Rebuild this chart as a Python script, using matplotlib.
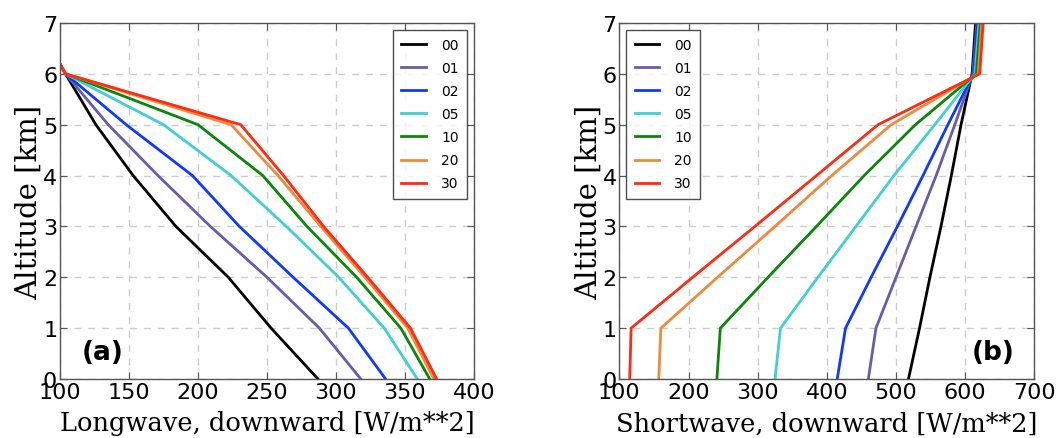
import matplotlib
matplotlib.use("Agg")
import matplotlib.pyplot as plt

altitude = [0, 1, 2, 3, 4, 5, 6, 7]
labels = ["00", "01", "02", "05", "10", "20", "30"]
colors = ["#000000", "#6b5bab", "#1238ff", "#40d0d0", "#0a860a", "#ec8a3d", "#ff2b12"]

lw_00 = [287, 253, 222, 184, 153, 126, 104, 83]
lw_01 = [318, 288, 250, 209, 171, 135, 104, 83]
lw_02 = [336, 309, 269, 230, 196, 148, 104, 83]
lw_05 = [359, 335, 302, 264, 224, 175, 104, 83]
lw_10 = [368, 347, 315, 279, 247, 200, 104, 83]
lw_20 = [371, 352, 321, 289, 258, 224, 104, 83]
lw_30 = [373, 354, 323, 291, 262, 231, 104, 83]

sw_00 = [518, 534, 549, 565, 580, 594, 610, 615]
sw_01 = [460, 471, 500, 529, 558, 585, 611, 617]
sw_02 = [415, 427, 464, 502, 539, 575, 612, 618]
sw_05 = [325, 333, 387, 442, 497, 556, 614, 620]
sw_10 = [241, 246, 315, 385, 454, 528, 616, 622]
sw_20 = [157, 160, 242, 325, 407, 493, 619, 624]
sw_30 = [115, 117, 206, 296, 385, 474, 621, 626]

lw_series = [lw_00, lw_01, lw_02, lw_05, lw_10, lw_20, lw_30]
sw_series = [sw_00, sw_01, sw_02, sw_05, sw_10, sw_20, sw_30]

fig = plt.figure(figsize=(10.56, 4.39), dpi=100)
axL = fig.add_axes([0.0568, 0.1344, 0.392, 0.811])
axR = fig.add_axes([0.5865, 0.1344, 0.393, 0.811])

def style(ax, xlim, xticks, xlabel, panel, ppos, loc):
    ax.set_xlim(*xlim)
    ax.set_ylim(0, 7)
    ax.set_xticks(xticks)
    ax.set_yticks(range(0, 8))
    ax.grid(True, color="#cccccc", linestyle=(0, (5, 5)), linewidth=1)
    ax.set_axisbelow(True)
    ax.tick_params(direction="in", top=True, right=True, labelsize=16,
                   length=5, width=0.8, color="#555555", pad=2)
    for s in ax.spines.values():
        s.set_color("#555555")
        s.set_linewidth(1)
    ax.set_xlabel(xlabel, family="DejaVu Serif", fontsize=18.5, labelpad=6)
    ax.set_ylabel("Altitude [km]", family="DejaVu Serif", fontsize=21, labelpad=0)
    ax.text(ppos[0], ppos[1], panel, transform=ax.transAxes, fontsize=19,
            fontweight="bold", ha="left", va="bottom")
    leg = ax.legend(loc=loc, fontsize=10, frameon=True, fancybox=False,
                    handlelength=1.75, labelspacing=0.65, borderpad=0.6,
                    handletextpad=1.1, borderaxespad=0.5)
    leg.get_frame().set_edgecolor("#222222")
    leg.get_frame().set_linewidth(1)

for vals, lab, c in zip(lw_series, labels, colors):
    axL.plot(vals, altitude, color=c, lw=2, label=lab)
for vals, lab, c in zip(sw_series, labels, colors):
    axR.plot(vals, altitude, color=c, lw=2, label=lab)

style(axL, (100, 400), [100, 150, 200, 250, 300, 350, 400],
      "Longwave, downward [W/m**2]", "(a)", (0.052, 0.04), "upper right")
style(axR, (100, 700), [100, 200, 300, 400, 500, 600, 700],
      "Shortwave, downward [W/m**2]", "(b)", (0.848, 0.04), "upper left")

fig.savefig("out.png", dpi=100)
